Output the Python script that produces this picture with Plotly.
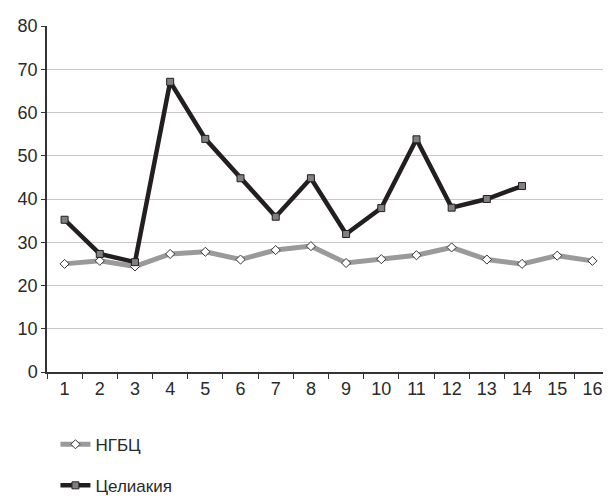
import plotly.graph_objects as go

categories = [str(i) for i in range(1, 17)]
ngbc = [25.0, 25.7, 24.4, 27.3, 27.8, 26.0, 28.2, 29.1, 25.2, 26.1, 27.0, 28.8, 26.0, 25.0, 26.9, 25.7]
celiac = [35.2, 27.3, 25.4, 67.1, 53.9, 44.8, 35.9, 44.8, 31.9, 37.9, 53.8, 38.0, 40.0, 43.0]
y_ticks = [0, 10, 20, 30, 40, 50, 60, 70, 80]

fig = go.Figure()
fig.add_trace(go.Scatter(
    x=categories, y=ngbc, name="НГБЦ", mode="lines+markers",
    line=dict(color="#9a9a9a", width=5),
    marker=dict(symbol="diamond", size=7, color="white", line=dict(color="#333333", width=1)),
    legendgroup="a",
))
fig.add_trace(go.Scatter(
    x=categories[:len(celiac)], y=celiac, name="Целиакия", mode="lines+markers",
    line=dict(color="#231f20", width=4.5),
    marker=dict(symbol="square", size=7, color="#808080", line=dict(color="#231f20", width=1)),
    legendgroup="b",
))

fig.update_layout(
    width=603, height=488,
    margin=dict(l=39, r=1, t=18, b=124),
    plot_bgcolor="white", paper_bgcolor="white",
    font=dict(family="Liberation Sans, Arial, sans-serif", size=18, color="#2a2a2a"),
    showlegend=True,
    legend=dict(x=0.015, y=0.142, xanchor="left", yanchor="top", yref="container",
                traceorder="grouped", tracegroupgap=16,
                font=dict(size=17, color="#2a2a2a"), bgcolor="rgba(0,0,0,0)"),
    xaxis=dict(type="category", categoryarray=categories, range=[-0.5, 15.5],
               tickson="boundaries", ticks="outside", ticklen=5, tickcolor="#333333",
               showline=True, linecolor="#333333", linewidth=1.5, automargin=False,
               showgrid=False, tickfont=dict(size=18)),
    yaxis=dict(range=[0, 80], tickvals=y_ticks, ticks="outside", ticklen=4,
               tickcolor="#333333", showline=True, linecolor="#333333", linewidth=1.5,
               gridcolor="#c8c8c8", gridwidth=1.2, zeroline=False, automargin=False,
               tickfont=dict(size=18)),
)

fig.write_html("out.html")
